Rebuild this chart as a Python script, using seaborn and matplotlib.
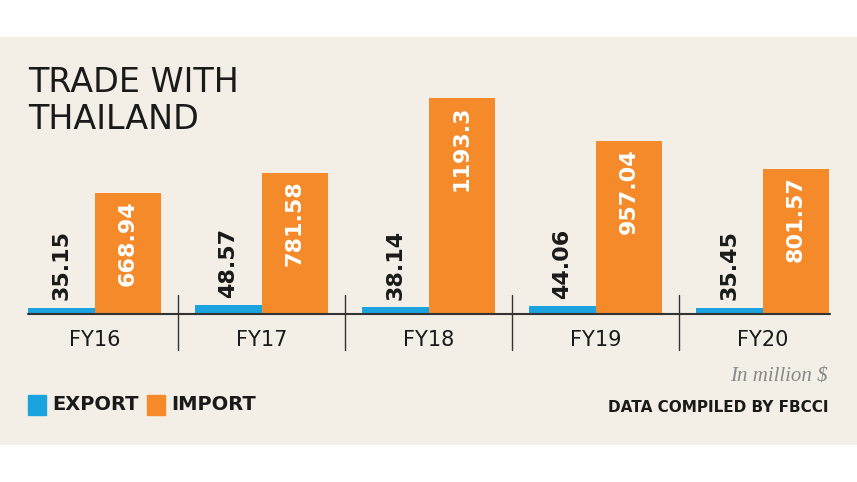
import matplotlib
matplotlib.use("Agg")
import matplotlib.pyplot as plt
import seaborn as sns
import pandas as pd

years = ["FY16", "FY17", "FY18", "FY19", "FY20"]
export = [35.15, 48.57, 38.14, 44.06, 35.45]
imports = [668.94, 781.58, 1193.3, 957.04, 801.57]
export_lbl = ["35.15", "48.57", "38.14", "44.06", "35.45"]
import_lbl = ["668.94", "781.58", "1193.3", "957.04", "801.57"]

df = pd.DataFrame({"year": years * 2, "value": export + imports,
                   "kind": ["EXPORT"] * 5 + ["IMPORT"] * 5})

sns.set_theme(style="white")
FN = ["Liberation Sans Narrow", "DejaVu Sans"]
plt.rcParams["font.family"] = FN

W, H = 857, 482
fig = plt.figure(figsize=(W / 100, H / 100), dpi=100)
fig.patch.set_facecolor("white")
bg = fig.add_axes([0, 1 - 445 / H, 1, (445 - 37) / H])
bg.set_facecolor("#f3efe6"); bg.set_xticks([]); bg.set_yticks([])
for s in bg.spines.values(): s.set_visible(False)

blue, orange = "#1ba3e0", "#f58a2a"
top = 314 - 1300 * 0.181
ax = fig.add_axes([11 / W, 1 - 314 / H, 835 / W, (314 - top) / H])
ax.patch.set_alpha(0)
sns.barplot(data=df, x="year", y="value", hue="kind", palette=[blue, orange],
            width=0.8, dodge=True, ax=ax, legend=False, saturation=1, linewidth=0)
ax.set_xlim(-0.5, 4.5); ax.set_ylim(0, 1300)
for s in ax.spines.values(): s.set_visible(False)
ax.set_yticks([]); ax.set_xticks([]); ax.set_xlabel(""); ax.set_ylabel("")
ax.axhline(0, xmin=17 / 835, xmax=819 / 835, color="#333333", lw=1.5, clip_on=False)

for i in range(5):
    ax.text(i - 0.2, export[i] + 40, export_lbl[i], rotation=90, ha="center", va="bottom",
            fontsize=16, fontweight="bold", color="#1a1a1a")
    ax.text(i + 0.2, imports[i] - 40, import_lbl[i], rotation=90, ha="center", va="top",
            fontsize=16, fontweight="bold", color="white")
    fig.text((11 + 167 * i + 83.5) / W, 1 - 340 / H, years[i], ha="center", va="center",
             fontsize=15, color="#1a1a1a")
for i in range(1, 5):
    x = (11 + 167 * i) / W
    fig.add_artist(plt.Line2D([x, x], [1 - 295 / H, 1 - 350 / H], color="#333333", lw=1))

fig.text(28 / W, 1 - 66 / H, "TRADE WITH\nTHAILAND", ha="left", va="top", fontsize=24,
         color="#1a1a1a", linespacing=1.15)
fig.text(828 / W, 1 - 377 / H, "In million $", ha="right", va="center", fontsize=15,
         style="italic", color="#888888", family=["Liberation Serif", "DejaVu Serif"])
fig.text(828 / W, 1 - 408 / H, "DATA COMPILED BY FBCCI", ha="right", va="center",
         fontsize=11, fontweight="bold", color="#1a1a1a", family=["DejaVu Sans"])
fig.add_artist(plt.Rectangle((28 / W, 1 - 415 / H), 18 / W, 20 / H, color=blue))
fig.text(52 / W, 1 - 405 / H, "EXPORT", va="center", fontsize=14, fontweight="bold", color="#1a1a1a")
fig.add_artist(plt.Rectangle((147 / W, 1 - 415 / H), 18 / W, 20 / H, color=orange))
fig.text(171 / W, 1 - 405 / H, "IMPORT", va="center", fontsize=14, fontweight="bold", color="#1a1a1a")

fig.savefig("out.png", dpi=100, facecolor="white")
